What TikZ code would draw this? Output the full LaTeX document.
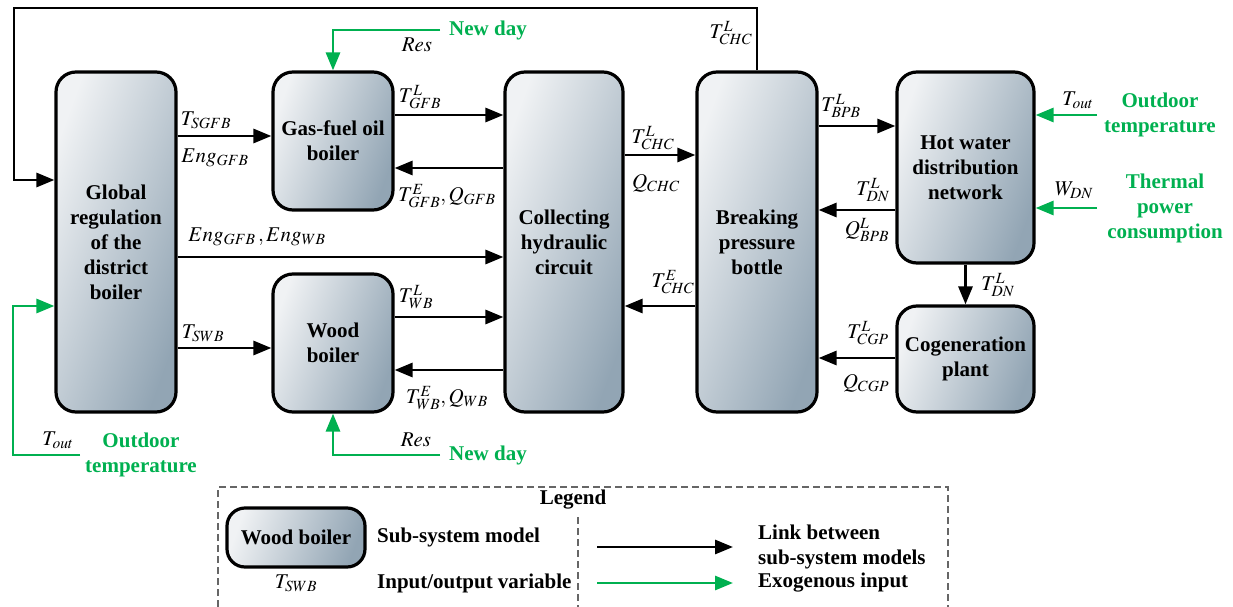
\documentclass[tikz,border=0pt]{standalone}
\usepackage{mathptmx}
\usepackage[no-math]{fontspec}
\setmainfont{Liberation Serif}
\usetikzlibrary{arrows.meta}
\definecolor{exo}{RGB}{0,176,80}
\definecolor{boxL}{RGB}{240,242,244}
\definecolor{boxR}{RGB}{146,165,180}
\tikzset{
  sub/.style={draw=black, line width=3.2pt, rounded corners=20pt,
    left color=boxL, right color=boxR, shading angle=70,
    inner sep=0pt, align=center, font=\bfseries\fontsize{21}{25}\selectfont},
  link/.style={line width=2.9pt, -{Triangle[length=18pt,width=14pt]}},
  exolink/.style={link, color=exo},
  var/.style={font=\fontsize{21}{25}\selectfont, inner sep=0pt},
  exotext/.style={text=exo, font=\bfseries\fontsize{21}{25}\selectfont, align=center, inner sep=0pt},
  legtext/.style={font=\bfseries\fontsize{21}{25}\selectfont, align=left, inner sep=0pt, anchor=west},
  legdash/.style={draw=black!60, line width=1.2pt, dash pattern=on 7pt off 4pt},
}
\begin{document}
\begin{tikzpicture}[x=1pt, y=-1pt]
\useasboundingbox (0,0) rectangle (1233,607);

% sub-system models
\node[sub, minimum width=120pt, minimum height=340pt] (glob) at (116,242) {Global\\regulation\\of the\\district\\boiler};
\node[sub, minimum width=120pt, minimum height=138pt] (gfb) at (333,141) {Gas-fuel oil\\boiler};
\node[sub, minimum width=120pt, minimum height=138pt] (wb) at (333,343) {Wood\\boiler};
\node[sub, minimum width=118pt, minimum height=340pt] (chc) at (564,242) {Collecting\\hydraulic\\circuit};
\node[sub, minimum width=120pt, minimum height=340pt] (bpb) at (757,242) {Breaking\\pressure\\bottle};
\node[sub, minimum width=137pt, minimum height=191pt] (hw) at (965.5,167.5) {Hot water\\distribution\\network};
\node[sub, minimum width=137pt, minimum height=106pt] (cgp) at (965.5,359) {Cogeneration\\plant};

% links between sub-system models
\coordinate (fbR) at (757,8);
\coordinate (fbL) at (14,8);
\draw[link] (bpb.north) -- (fbR) -- (fbL) |- (glob.west |- 0,180);
\draw[link] (glob.east |- 0,136) -- (gfb.west |- 0,136);
\draw[link] (glob.east |- 0,257) -- (chc.west |- 0,257);
\draw[link] (glob.east |- 0,348) -- (wb.west |- 0,348);
\draw[link] (gfb.east |- 0,115) -- (chc.west |- 0,115);
\draw[link] (chc.west |- 0,168) -- (gfb.east |- 0,168);
\draw[link] (wb.east |- 0,317) -- (chc.west |- 0,317);
\draw[link] (chc.west |- 0,370) -- (wb.east |- 0,370);
\draw[link] (chc.east |- 0,155) -- (bpb.west |- 0,155);
\draw[link] (bpb.west |- 0,306) -- (chc.east |- 0,306);
\draw[link] (bpb.east |- 0,126) -- (hw.west |- 0,126);
\draw[link] (hw.west |- 0,210) -- (bpb.east |- 0,210);
\draw[link] (cgp.west |- 0,358) -- (bpb.east |- 0,358);
\draw[link] (hw.south) -- (cgp.north);

% exogenous inputs
\coordinate (ndT) at (440,30);
\coordinate (ndB) at (440,455);
\coordinate (toL) at (80,455);
\coordinate (toR) at (1097,115);
\coordinate (wdn) at (1097,208);
\draw[exolink] (ndT) -| (gfb.north);
\draw[exolink] (ndB) -| (wb.south);
\draw[exolink] (toL) -| (13,306) -- (glob.west |- 0,306);
\draw[exolink] (toR) -- (hw.east |- 0,115);
\draw[exolink] (wdn) -- (hw.east |- 0,208);

% variables
\node[var] (vTchcTop) at (731,33) {$T^{L}_{CHC}$};
\node[var] (vResT) at (417,45) {$Res$};
\node[var] (vTsgfb) at (206,120) {$T_{SGFB}$};
\node[var] (vEnggfb) at (215,158) {$Eng_{GFB}$};
\node[var] (vTLgfb) at (420,97) {$T^{L}_{GFB}$};
\node[var] (vTEgfb) at (447,196) {$T^{E}_{GFB},Q_{GFB}$};
\node[var] (vTLchc) at (653,138) {$T^{L}_{CHC}$};
\node[var] (vQchc) at (656,183) {$Q_{CHC}$};
\node[var] (vTLbpb) at (841,106) {$T^{L}_{BPB}$};
\node[var] (vTLdn) at (873,190) {$T^{L}_{DN}$};
\node[var] (vQLbpb) at (867,230) {$Q^{L}_{BPB}$};
\node[var] (vToutR) at (1078,100) {$T_{out}$};
\node[var] (vWdn) at (1074,190) {$W_{DN}$};
\node[var] (vEng) at (257,237) {$Eng_{GFB}\,,Eng_{WB}$};
\node[var] (vTswb) at (203,333) {$T_{SWB}$};
\node[var] (vTLwb) at (416,297) {$T^{L}_{WB}$};
\node[var] (vTEwb) at (447,398) {$T^{E}_{WB},Q_{WB}$};
\node[var] (vTEchc) at (673,282) {$T^{E}_{CHC}$};
\node[var] (vResB) at (416,440) {$Res$};
\node[var] (vToutL) at (58,440) {$T_{out}$};
\node[var] (vTLdn2) at (998,285) {$T^{L}_{DN}$};
\node[var] (vTLcgp) at (868,333) {$T^{L}_{CGP}$};
\node[var] (vQcgp) at (866,383) {$Q_{CGP}$};

% exogenous input names
\node[exotext] (xNdT) at (488,30) {New day};
\node[exotext] (xNdB) at (488,455) {New day};
\node[exotext] (xOutL) at (141,455) {Outdoor\\temperature};
\node[exotext] (xOutR) at (1160,115) {Outdoor\\temperature};
\node[exotext] (xThp) at (1165,208) {Thermal\\power\\consumption};

% legend
\coordinate (lgBL) at (218,607);
\coordinate (lgTL) at (218,487);
\coordinate (lgTR) at (948,487);
\coordinate (lgBR) at (948,607);
\coordinate (lgDT) at (578,517);
\coordinate (lgDB) at (578,607);
\draw[legdash] (lgBL) -- (lgTL) -- (lgTR) -- (lgBR);
\draw[legdash] (lgDT) -- (lgDB);
\node[font=\bfseries\fontsize{21}{25}\selectfont, inner sep=0pt] (lgTitle) at (573,500) {Legend};
\node[sub, minimum width=138pt, minimum height=59pt, rounded corners=18pt] (lgBox) at (296,537.5) {Wood boiler};
\node[var] (lgVar) at (296,583) {$T_{SWB}$};
\node[legtext] (lgSub) at (377,537) {Sub-system model};
\node[legtext] (lgIO) at (377,583) {Input/output variable};
\coordinate (lgA1) at (597,547);
\coordinate (lgA2) at (733,547);
\coordinate (lgG1) at (597,583);
\coordinate (lgG2) at (733,583);
\draw[link] (lgA1) -- (lgA2);
\draw[exolink] (lgG1) -- (lgG2);
\node[legtext] (lgLink) at (758,547) {Link between\\sub-system models};
\node[legtext] (lgExo) at (758,583) {Exogenous input};
\end{tikzpicture}
\end{document}
